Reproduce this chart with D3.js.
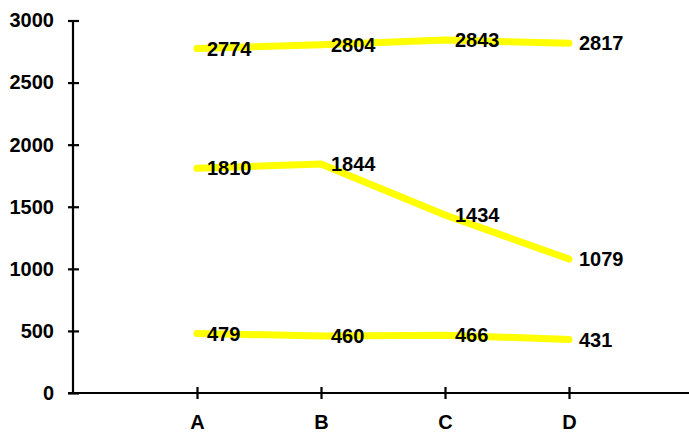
<!DOCTYPE html>
<html><head><meta charset="utf-8">
<script src="https://cdn.jsdelivr.net/npm/d3@7"></script>
<style>body{margin:0;background:#fff}svg{display:block}</style>
</head><body><svg id="c" width="689" height="433"></svg>
<script>
const categories = ["A","B","C","D"];
const seriesTop = [2774, 2804, 2843, 2817];
const seriesMid = [1810, 1844, 1434, 1079];
const seriesLow = [479, 460, 466, 431];
const yTicks = [0, 500, 1000, 1500, 2000, 2500, 3000];

const svg = d3.select("#c");
const x = d3.scalePoint().domain(categories).range([73, 693]).padding(1);
const y = d3.scaleLinear().domain([0, 3000]).range([393, 20.5]);
const font = "Liberation Sans, Arial, sans-serif";

// axes
const yAxis = svg.append("g").attr("transform","translate(73,0)")
  .call(d3.axisLeft(y).tickValues(yTicks).tickFormat(d3.format("d")).tickSizeInner(6).tickSizeOuter(0).tickPadding(13));
yAxis.selectAll(".tick line").attr("x2", 6).attr("x1", -5);
yAxis.select(".domain").attr("d", `M0,${y(3000)}V${y(0)}`);
const xAxis = svg.append("g").attr("transform","translate(0,393)")
  .call(d3.axisBottom(x).tickSizeInner(6).tickSizeOuter(0).tickPadding(16));
xAxis.selectAll(".tick line").attr("y1", -6).attr("y2", 6);
xAxis.select(".domain").attr("d", "M68,0H689");
svg.selectAll(".domain, .tick line").attr("stroke", "#000").attr("stroke-width", 2.2);
yAxis.selectAll(".tick text").attr("font-family", font).attr("font-weight","bold").attr("font-size", 20).attr("fill","#000");
xAxis.selectAll(".tick text").attr("font-family", font).attr("font-weight","bold").attr("font-size", 20).attr("fill","#000");

const line = d3.line().x((d,i)=>x(categories[i])).y(d=>y(d));
[seriesTop, seriesMid, seriesLow].forEach(s => {
  svg.append("path").datum(s).attr("d", line).attr("fill","none")
    .attr("stroke","#ffff00").attr("stroke-width",7).attr("stroke-linecap","round").attr("stroke-linejoin","round");
});
[seriesTop, seriesMid, seriesLow].forEach(s => {
  svg.append("g").selectAll("text").data(s).join("text")
    .attr("x",(d,i)=>x(categories[i])+10).attr("y",d=>y(d)).attr("dy","0.36em")
    .attr("font-family",font).attr("font-weight","bold").attr("font-size",20).attr("fill","#000")
    .text(d=>d);
});
</script></body></html>
